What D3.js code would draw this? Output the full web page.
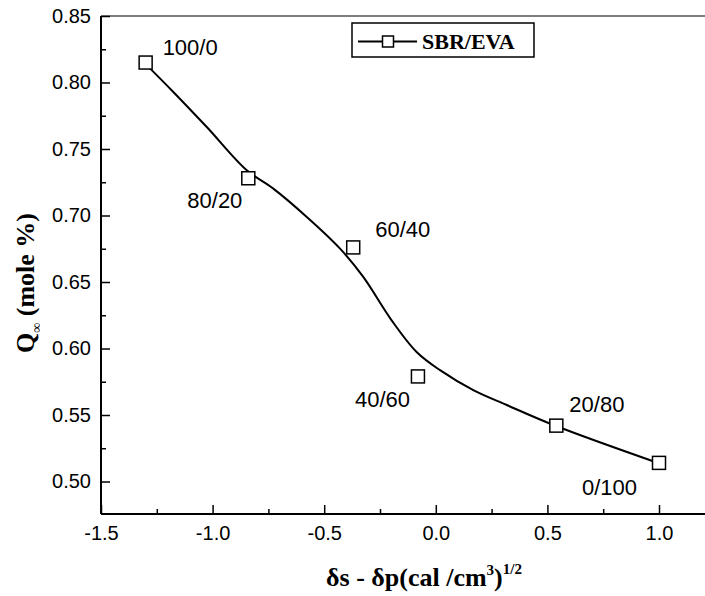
<!DOCTYPE html>
<html>
<head>
<meta charset="utf-8">
<script src="https://cdn.jsdelivr.net/npm/d3@7"></script>
<style>
  body { margin: 0; background: #fff; }
  svg { display: block; }
  .tick text { font-family: "Liberation Sans", Arial, sans-serif; font-size: 20px; fill: #000; }
  .lbl { font-family: "Liberation Sans", Arial, sans-serif; font-size: 22px; fill: #000; }
  .ttl { font-family: "Liberation Serif", "Times New Roman", serif; font-weight: bold; fill: #000; }
</style>
</head>
<body>
<script>
// measured points, SBR/EVA blends
var blends = ['100/0', '80/20', '60/40', '40/60', '20/80', '0/100'];
var deltaX = [-1.30, -0.84, -0.37, -0.08, 0.54, 1.00];
var qInf = [0.815, 0.728, 0.676, 0.579, 0.542, 0.514];

// smooth fitted curve
var fitX = [-1.303, -1.176, -1.026, -0.847, -0.728, -0.578, -0.429, -0.325, -0.198, -0.086, 0.019, 0.168, 0.318, 0.539, 0.996];
var fitY = [0.8144, 0.7929, 0.7665, 0.7340, 0.7202, 0.6989, 0.6751, 0.6538, 0.6212, 0.5974, 0.5837, 0.5687, 0.5575, 0.5417, 0.5139];

var xTicks = [-1.5, -1.0, -0.5, 0.0, 0.5, 1.0];
var yTicks = [0.50, 0.55, 0.60, 0.65, 0.70, 0.75, 0.80, 0.85];

var W = 705, H = 596;
var margin = {left: 101, top: 16, right: 0, bottom: 82};
var iw = W - margin.left - margin.right;
var ih = H - margin.top - margin.bottom;

// label placement relative to the marker (px)
var labelOff = [[17, -8], [-61, 30], [22, -10], [-63, 31], [13, -14], [-77, 32]];

var svg = d3.select('body').append('svg')
    .attr('width', W)
    .attr('height', H);

var g = svg.append('g').attr('transform', 'translate(' + margin.left + ',' + margin.top + ')');

var x = d3.scaleLinear().domain([-1.5, -1.5 + iw / 223.2]).range([0, iw]);
var y = d3.scaleLinear().domain([0.85 - ih / 1330, 0.85]).range([ih, 0]);

// minor ticks
g.append('g')
    .attr('transform', 'translate(0,' + ih + ')')
    .call(d3.axisBottom(x).tickValues([-1.25, -0.75, -0.25, 0.25, 0.75]).tickSize(-5).tickFormat(''))
    .call(function (a) { a.select('.domain').remove(); a.selectAll('line').attr('stroke-width', 1.5); });
g.append('g')
    .call(d3.axisLeft(y).tickValues([0.525, 0.575, 0.625, 0.675, 0.725, 0.775, 0.825]).tickSize(-5).tickFormat(''))
    .call(function (a) { a.select('.domain').remove(); a.selectAll('line').attr('stroke-width', 1.5); });

// major axes
var xAxis = g.append('g')
    .attr('transform', 'translate(0,' + ih + ')')
    .call(d3.axisBottom(x).tickValues(xTicks).tickSize(-9).tickPadding(12)
        .tickFormat(function (d) { return d.toFixed(1); }));
xAxis.select('.domain').attr('d', 'M0,0H' + iw).attr('stroke-width', 2);
xAxis.selectAll('line').attr('stroke-width', 1.5);
xAxis.selectAll('text').attr('dy', '0.71em');

var yAxis = g.append('g')
    .call(d3.axisLeft(y).tickValues(yTicks).tickSize(-9).tickPadding(10)
        .tickFormat(function (d) { return d.toFixed(2); }));
yAxis.select('.domain').attr('d', 'M0,0V' + ih).attr('stroke-width', 2);
yAxis.selectAll('line').attr('stroke-width', 1.5);

// top frame line
g.append('line')
    .attr('x1', 0).attr('x2', iw)
    .attr('y1', 0).attr('y2', 0)
    .attr('stroke', '#000').attr('stroke-width', 1.2);

// fitted curve
var fit = fitX.map(function (d, i) { return [d, fitY[i]]; });
g.append('path')
    .datum(fit)
    .attr('fill', 'none')
    .attr('stroke', '#000')
    .attr('stroke-width', 2)
    .attr('d', d3.line()
        .x(function (d) { return x(d[0]); })
        .y(function (d) { return y(d[1]); })
        .curve(d3.curveCatmullRom.alpha(0.5)));

// markers
var pts = blends.map(function (b, i) { return {name: b, x: deltaX[i], y: qInf[i], off: labelOff[i]}; });
var S = 13;
g.selectAll('rect.pt')
    .data(pts)
    .enter()
    .append('rect')
        .attr('class', 'pt')
        .attr('x', function (d) { return x(d.x) - S / 2; })
        .attr('y', function (d) { return y(d.y) - S / 2; })
        .attr('width', S)
        .attr('height', S)
        .attr('fill', '#fff')
        .attr('stroke', '#000')
        .attr('stroke-width', 1.5);

g.selectAll('text.lbl')
    .data(pts)
    .enter()
    .append('text')
        .attr('class', 'lbl')
        .attr('x', function (d) { return x(d.x) + d.off[0]; })
        .attr('y', function (d) { return y(d.y) + d.off[1]; })
        .text(function (d) { return d.name; });

// legend
var lg = svg.append('g').attr('transform', 'translate(352,23)');
lg.append('rect')
    .attr('width', 182).attr('height', 34)
    .attr('fill', '#fff').attr('stroke', '#000').attr('stroke-width', 1.5);
lg.append('line')
    .attr('x1', 6).attr('x2', 65).attr('y1', 18.5).attr('y2', 18.5)
    .attr('stroke', '#000').attr('stroke-width', 2);
lg.append('rect')
    .attr('x', 36 - 5.5).attr('y', 18.5 - 5.5).attr('width', 11).attr('height', 11)
    .attr('fill', '#fff').attr('stroke', '#000').attr('stroke-width', 1.5);
lg.append('text')
    .attr('class', 'ttl')
    .attr('x', 70).attr('y', 26)
    .style('font-size', '22px')
    .text('SBR/EVA');

// axis titles
var xt = svg.append('text')
    .attr('class', 'ttl')
    .attr('x', 424)
    .attr('y', 586)
    .attr('text-anchor', 'middle')
    .style('font-size', '26px');
xt.append('tspan').text('δs - δp(cal /cm');
xt.append('tspan').attr('dy', -11).style('font-size', '15px').text('3');
xt.append('tspan').attr('dy', 11).text(')');
xt.append('tspan').attr('dy', -12).style('font-size', '15px').text('1/2');

var yt = svg.append('text')
    .attr('class', 'ttl')
    .attr('transform', 'translate(34,283) rotate(-90)')
    .attr('text-anchor', 'middle')
    .style('font-size', '26px');
yt.append('tspan').text('Q');
yt.append('tspan').attr('dy', 7).style('font-size', '14px').text('∞');
yt.append('tspan').attr('dy', -7).text(' (mole %)');
</script>
</body>
</html>
